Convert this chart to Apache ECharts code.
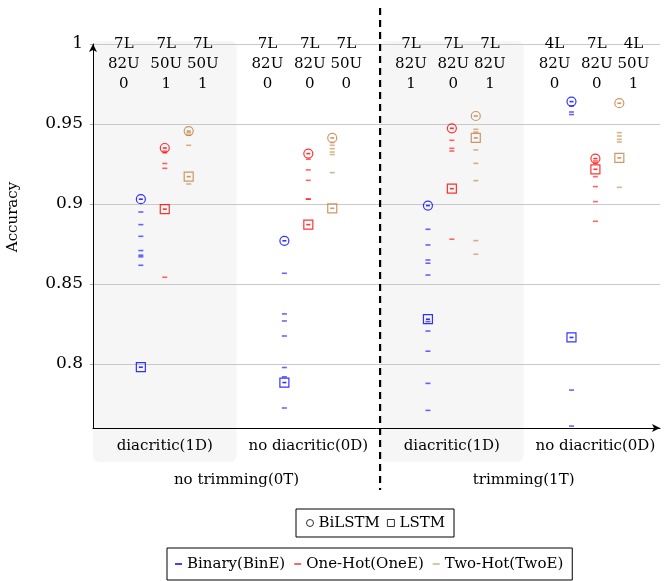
<!DOCTYPE html>
<html>
<head>
<meta charset="utf-8">
<script src="https://cdn.jsdelivr.net/npm/echarts/dist/echarts.min.js"></script>
<style>html,body{margin:0;padding:0;background:#fff}#c{width:665px;height:581px}</style>
</head>
<body>
<div id="c"></div>
<script>
// ---- data ----
const groupLabels = ['diacritic(1D)', 'no diacritic(0D)', 'diacritic(1D)', 'no diacritic(0D)'];
const trimLabels = ['no trimming(0T)', 'trimming(1T)'];
const colLayers = ['7L','7L','7L', '7L','7L','7L', '7L','7L','7L', '4L','7L','4L'];
const colUnits  = ['82U','50U','50U', '82U','82U','50U', '82U','82U','82U', '82U','82U','50U'];
const colFlags  = ['0','1','1', '0','0','0', '1','0','1', '0','0','1'];
const yTicks = [0.8, 0.85, 0.9, 0.95, 1];

// best BiLSTM (circle) and LSTM (square) per group
const binBiLSTM = [0.903, 0.877, 0.899, 0.964];
const oneBiLSTM = [0.935, 0.9315, 0.9473, 0.9284];
const twoBiLSTM = [0.9456, 0.9413, 0.955, 0.963];
const binLSTM = [0.798, 0.7884, 0.828, 0.8166];
const oneLSTM = [0.8968, 0.8871, 0.9096, 0.9217];
const twoLSTM = [0.9171, 0.8973, 0.9413, 0.9288];

// individual runs (dashes) per group
const binRuns = [
  [0.895, 0.8871, 0.8798, 0.8709, 0.868, 0.867, 0.8617],
  [0.8567, 0.8313, 0.8269, 0.8175, 0.7978, 0.792, 0.7725],
  [0.8842, 0.8744, 0.865, 0.863, 0.8556, 0.8265, 0.8206, 0.808, 0.7879, 0.771],
  [0.9612, 0.9575, 0.9559, 0.7837, 0.7612]
];
const oneRuns = [
  [0.933, 0.932, 0.9253, 0.9223, 0.8542],
  [0.928, 0.9213, 0.9148, 0.9031, 0.903],
  [0.9398, 0.9348, 0.9331, 0.878],
  [0.9269, 0.9254, 0.9171, 0.9109, 0.9015, 0.8892]
];
const twoRuns = [
  [0.9445, 0.943, 0.9367, 0.9125],
  [0.9384, 0.9367, 0.9346, 0.9325, 0.9309, 0.9196],
  [0.9467, 0.945, 0.9338, 0.9254, 0.9146, 0.8771, 0.8686],
  [0.9446, 0.9425, 0.9404, 0.9388, 0.9104]
];

// ---- layout / style ----
const FONT = 'DejaVu Serif';
const yMin = 0.76, yMax = 1.0;
const shadedGroups = [0, 2];
const labelOff = [-0.285, 0.01, 0.265];
const encs = [
  {name: 'Binary(BinE)', color: '#0000ff', legend: '#0000ff', runs: binRuns, bi: binBiLSTM, ls: binLSTM, off: -1/6},
  {name: 'One-Hot(OneE)', color: '#ff0000', legend: '#f03a3a', runs: oneRuns, bi: oneBiLSTM, ls: oneLSTM, off: 0},
  {name: 'Two-Hot(TwoE)', color: '#bf8040', legend: '#d6ae88', runs: twoRuns, bi: twoBiLSTM, ls: twoLSTM, off: 1/6}
];

const series = [];
// shaded group backgrounds
series.push({
  type: 'custom', silent: true, z: -5, clip: false,
  data: shadedGroups.map(g => [g + 0.5, g + 1.5, yMax]),
  encode: {x: [0, 1], y: 2},
  renderItem: (params, api) => {
    const a = api.coord([api.value(0), yMax]);
    const b = api.coord([api.value(1), yMin]);
    return {type: 'rect', shape: {x: a[0], y: a[1] - 3, width: b[0] - a[0], height: b[1] - a[1] + 37, r: 6},
            style: {fill: '#f6f6f6'}};
  }
});
// dashed separator
series.push({
  type: 'custom', silent: true, z: 6, clip: false,
  data: [[2.5, yMax]],
  encode: {x: 0, y: 1},
  renderItem: (params, api) => {
    const a = api.coord([api.value(0), yMax]);
    const b = api.coord([api.value(0), yMin]);
    return {type: 'line', shape: {x1: a[0], y1: a[1] - 36, x2: b[0], y2: b[1] + 62},
            style: {stroke: '#000', lineWidth: 2.2, lineDash: [7, 5]}};
  }
});

encs.forEach(e => {
  const runData = [];
  e.runs.forEach((arr, g) => arr.forEach(v => runData.push([g + 1 + e.off, v])));
  series.push({
    type: 'scatter', name: e.name, silent: true, z: 3,
    symbol: 'rect', symbolSize: [5, 1.6],
    itemStyle: {color: e.color, opacity: 0.6},
    data: runData
  });
  const inner = [];
  e.bi.forEach((v, g) => inner.push([g + 1 + e.off, v]));
  e.ls.forEach((v, g) => inner.push([g + 1 + e.off, v]));
  series.push({
    type: 'scatter', name: e.name, silent: true, z: 4,
    symbol: 'rect', symbolSize: [4, 1.6],
    itemStyle: {color: e.color},
    data: inner
  });
  series.push({
    type: 'scatter', name: 'BiLSTM', silent: true, z: 5,
    symbol: 'circle', symbolSize: 9,
    itemStyle: {color: 'rgba(255,255,255,0)', borderColor: e.color, borderWidth: 1.2},
    data: e.bi.map((v, g) => [g + 1 + e.off, v])
  });
  series.push({
    type: 'scatter', name: 'LSTM', silent: true, z: 5,
    symbol: 'rect', symbolSize: 9,
    itemStyle: {color: 'rgba(255,255,255,0)', borderColor: e.color, borderWidth: 1.2},
    data: e.ls.map((v, g) => [g + 1 + e.off, v])
  });
});

// top column labels
const colData = [];
for (let g = 0; g < 4; g++) for (let k = 0; k < 3; k++) colData.push([g + 1 + labelOff[k], yMax]);
series.push({
  type: 'custom', silent: true, z: 7, clip: false,
  data: colData,
  encode: {x: 0, y: 1},
  renderItem: (params, api) => {
    const p = api.coord([api.value(0), api.value(1)]);
    const i = params.dataIndex;
    return {type: 'text', x: p[0], y: p[1] - 10,
            style: {text: colLayers[i] + '\n' + colUnits[i] + '\n' + colFlags[i],
                    fill: '#000', font: '15px "DejaVu Serif"', lineHeight: 20,
                    align: 'center', verticalAlign: 'top'}};
  }
});

const baseX = {type: 'value', min: 0.5, max: 4.45, splitLine: {show: false}, axisTick: {show: false}};
const option = {
  animation: false,
  backgroundColor: '#fff',
  grid: {left: 93, right: 5, top: 44, bottom: 153, containLabel: false, outerBoundsMode: 'none'},
  xAxis: [
    Object.assign({}, baseX, {
      position: 'bottom',
      axisLine: {onZero: false, lineStyle: {color: '#000', width: 1}, symbol: ['none', 'arrow'], symbolSize: [6, 8]},
      axisLabel: {customValues: [1, 2, 3, 4], formatter: v => groupLabels[Math.round(v) - 1],
                  margin: 11, fontFamily: FONT, fontSize: 15, color: '#000'}
    }),
    Object.assign({}, baseX, {
      position: 'bottom', offset: 0,
      axisLine: {show: false},
      axisLabel: {customValues: [1.5, 3.5], formatter: v => trimLabels[v < 2.5 ? 0 : 1],
                  margin: 45, fontFamily: FONT, fontSize: 15, color: '#000'}
    })
  ],
  yAxis: {
    type: 'value', min: yMin, max: yMax, splitNumber: 5,
    name: 'Accuracy', nameLocation: 'middle', nameGap: 72, nameRotate: 90,
    nameTextStyle: {fontFamily: FONT, fontSize: 15, color: '#000', padding: [0, 0, 0, 38]},
    axisLine: {show: true, onZero: false, lineStyle: {color: '#000', width: 1}, symbol: ['none', 'arrow'], symbolSize: [6, 8]},
    axisTick: {show: true, length: 3, lineStyle: {color: '#aaa'}},
    splitLine: {show: true, lineStyle: {color: '#c8c8c8', width: 1}},
    axisLabel: {showMinLabel: false, margin: 10, fontFamily: FONT, fontSize: 17, color: '#000',
                formatter: v => (yTicks.some(t => Math.abs(t - v) < 1e-6) ? String(+v.toFixed(2)) : '')}
  },
  legend: [
    {
      left: 296, top: 509, orient: 'horizontal', selectedMode: false,
      borderColor: '#000', borderWidth: 1, borderRadius: 0, padding: [5, 9, 5, 10],
      itemWidth: 7, itemHeight: 7, itemGap: 7,
      textStyle: {fontFamily: FONT, fontSize: 15, color: '#000', lineHeight: 18},
      data: [
        {name: 'BiLSTM', icon: 'circle', itemStyle: {color: 'rgba(255,255,255,0)', borderColor: '#000', borderWidth: 1}},
        {name: 'LSTM', icon: 'rect', itemStyle: {color: 'rgba(255,255,255,0)', borderColor: '#000', borderWidth: 1}}
      ]
    },
    {
      left: 167, top: 548, orient: 'horizontal', selectedMode: false,
      borderColor: '#000', borderWidth: 1, borderRadius: 0, padding: [7, 9, 7, 8],
      itemWidth: 7, itemHeight: 1.5, itemGap: 9,
      textStyle: {fontFamily: FONT, fontSize: 15, color: '#000', lineHeight: 18},
      data: encs.map(e => ({name: e.name, icon: 'rect', itemStyle: {color: e.legend, borderWidth: 0, opacity: 1}}))
    }
  ],
  series: series
};

const chart = echarts.init(document.getElementById('c'), null, {renderer: 'canvas'});
chart.setOption(option);
</script>
</body>
</html>
